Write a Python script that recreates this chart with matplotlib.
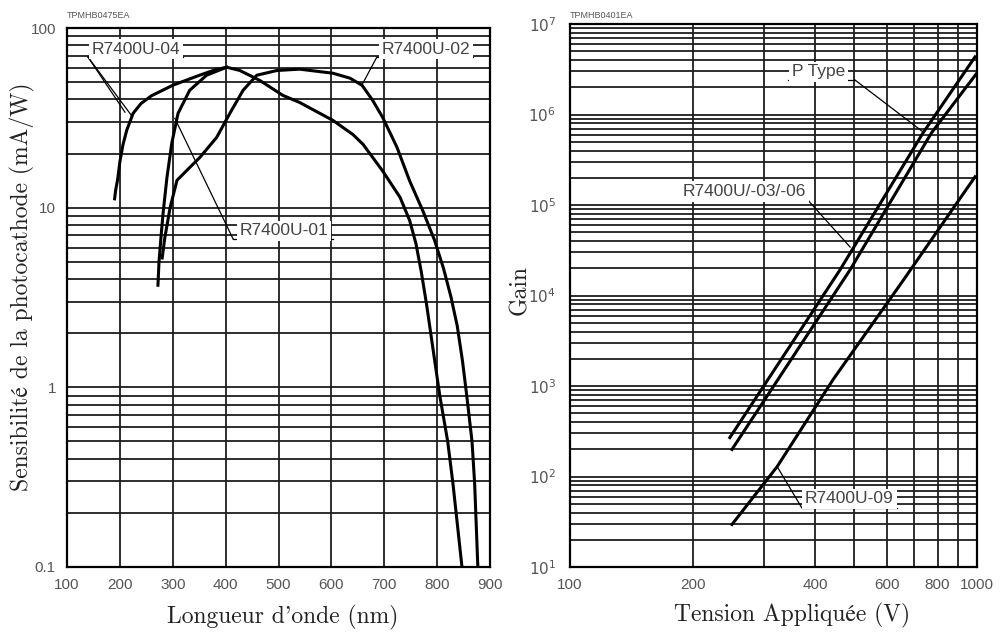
import math
import matplotlib.pyplot as plt
from matplotlib.ticker import FixedLocator, NullFormatter

plt.rcParams['font.family'] = ['Liberation Sans', 'DejaVu Sans']
SERIF = ['cmr10', 'STIXGeneral', 'DejaVu Serif']

# ---- left chart: sensibilite de la photocathode (mA/W) vs longueur d'onde (nm)
r04_nm = [190, 192, 196, 200, 206, 213, 225, 240, 260, 300, 350, 380, 402]
r04_v = [11.2, 12.5, 14.5, 18, 22.5, 27, 33.5, 38, 42, 48, 54.5, 58.5, 60.5]

r01_nm = [272, 274, 278, 282, 289, 298, 310, 332, 364, 402, 427, 465, 508, 540,
          603, 641, 660, 697, 730, 748, 760, 770, 780, 792, 805, 820, 830, 847]
r01_v = [3.7, 5, 7, 9.5, 14.7, 22.7, 33.5, 45, 54.6, 60.5, 58, 51, 42.2, 38.5,
         30.6, 25.5, 22.5, 16, 11.4, 8.5, 6.3, 4.4, 2.9, 1.65, 0.9, 0.5, 0.29, 0.1]

r02_nm = [280, 285, 295, 308, 330, 351, 383, 408, 433, 459, 497, 540, 603, 635,
          658, 678, 697, 724, 748, 773, 795, 812, 826, 838, 848, 856, 866, 871, 877]
r02_v = [5.25, 6.8, 10, 14.2, 16.5, 19, 24.6, 33.5, 45, 54.6, 58, 59, 56, 52.6,
         48, 39.6, 31.8, 21.7, 14.1, 9.6, 6.6, 4.6, 3.2, 2.2, 1.4, 0.9, 0.5, 0.29, 0.1]

# ---- right chart: gain vs tension appliquee (V)
ptype_V = [247, 461, 737, 989]
ptype_G = [269, 1.93e4, 6.27e5, 4.33e6]
r0306_V = [250, 488, 773, 1000]
r0306_G = [199, 1.93e4, 6.27e5, 2.88e6]
r09_V = [250, 323, 443, 658, 989]
r09_G = [29.5, 129, 1178, 1.46e4, 2.05e5]

fig = plt.figure(figsize=(10.01, 6.33), dpi=100)
ax1 = fig.add_axes([67 / 1001, 1 - 567 / 633, 423 / 1001, 539 / 633])
ax2 = fig.add_axes([570 / 1001, 1 - 567 / 633, 407 / 1001, 543 / 633])

grid_kw = dict(color='#1e1e1e', lw=1.3)

# left axes
ax1.set_yscale('log')
ax1.set_xlim(100, 900)
ax1.set_ylim(0.1, 100)
ax1.set_xticks(range(100, 901, 100))
ax1.set_yticks([0.1, 1, 10, 100])
ax1.set_yticklabels(['0.1', '1', '10', '100'])
ax1.yaxis.set_minor_locator(FixedLocator([m * 10.0 ** e for e in (-1, 0, 1) for m in range(2, 10)]))
ax1.yaxis.set_minor_formatter(NullFormatter())
ax1.grid(True, which='both', **grid_kw)
ax1.set_axisbelow(True)
ax1.tick_params(which='both', length=0, labelsize=11, labelcolor='#555')
ax1.tick_params(axis='y', pad=8)
ax1.tick_params(axis='x', pad=8)

for nm, v in [(r04_nm, r04_v), (r01_nm, r01_v), (r02_nm, r02_v)]:
    ax1.plot(nm, v, color='black', lw=2.2, zorder=3)

# right axes
ax2.set_xscale('log')
ax2.set_yscale('log')
ax2.set_xlim(100, 1000)
ax2.set_ylim(10, 1e7)
ax2.xaxis.set_major_locator(FixedLocator([100, 200, 400, 600, 800, 1000]))
ax2.xaxis.set_major_formatter(plt.FuncFormatter(lambda x, p: '%d' % x))
ax2.xaxis.set_minor_locator(FixedLocator([300, 500, 700, 900]))
ax2.xaxis.set_minor_formatter(NullFormatter())
ax2.yaxis.set_major_locator(FixedLocator([10.0 ** e for e in range(1, 8)]))
ax2.yaxis.set_major_formatter(plt.FuncFormatter(lambda y, p: r'$10^{%d}$' % round(math.log10(y))))
ax2.yaxis.set_minor_locator(FixedLocator([m * 10.0 ** e for e in range(1, 7) for m in range(2, 10)]))
ax2.yaxis.set_minor_formatter(NullFormatter())
ax2.grid(True, which='both', **grid_kw)
ax2.set_axisbelow(True)
ax2.tick_params(which='both', length=0, labelsize=11, labelcolor='#555')
ax2.tick_params(axis='y', pad=10)
ax2.tick_params(axis='x', pad=8)

for V, G in [(ptype_V, ptype_G), (r0306_V, r0306_G), (r09_V, r09_G)]:
    ax2.plot(V, G, color='black', lw=2.2, zorder=3)

for ax in (ax1, ax2):
    for s in ax.spines.values():
        s.set_linewidth(1.6)

# curve labels: text, underline, leader
lab_kw = dict(fontsize=12.5, color='#444', va='center', ha='left', zorder=5,
              bbox=dict(facecolor='white', edgecolor='none', pad=2))
line_kw = dict(color='black', lw=0.9, zorder=4)


def tag(ax, text, tx, ty, ux0, ux1, uy, tips, at_right=False):
    ax.text(tx, ty, text, **lab_kw)
    ax.plot([ux0, ux1], [uy, uy], **line_kw)
    sx = ux1 if at_right else ux0
    for px, py in tips:
        ax.plot([sx, px], [uy, py], **line_kw)


tag(ax1, 'R7400U-04', 147, 76.3, 139.7, 319, 68.9, [(209.6, 34.0), (222.9, 32.3)])
tag(ax1, 'R7400U-01', 427, 7.43, 414, 603, 6.71, [(304, 31.4)])
tag(ax1, 'R7400U-02', 695.5, 76.3, 686, 867.5, 68.9, [(657.7, 48.1)])
tag(ax2, 'P Type', 351.4, 2.95e6, 343.4, 501, 2.41e6, [(736.6, 6.42e5)], at_right=True)
tag(ax2, 'R7400U/-03/-06', 189.6, 1.4e5, 188.5, 383.6, 1.14e5, [(487.8, 3.43e4)], at_right=True)
tag(ax2, 'R7400U-09', 378, 56.5, 371, 636, 45.2, [(322.7, 129)])

# small reference codes
fig.text(67 / 1001, 1 - 15 / 633, 'TPMHB0475EA', fontsize=6.5, color='#555', va='center')
fig.text(570 / 1001, 1 - 15 / 633, 'TPMHB0401EA', fontsize=6.5, color='#555', va='center')

# axis titles
fig.text(283 / 1001, 1 - 617 / 633, "Longueur d'onde (nm)", family=SERIF, fontsize=17,
         ha='center', va='center', color='#222')
fig.text(792 / 1001, 1 - 615 / 633, 'Tension Appliquée (V)', family=SERIF, fontsize=17,
         ha='center', va='center', color='#222')
fig.text(22 / 1001, 1 - 287 / 633, 'Sensibilité de la photocathode (mA/W)', family=SERIF,
         fontsize=17, rotation=90, ha='center', va='center', color='#222')
fig.text(520 / 1001, 1 - 290 / 633, 'Gain', family=SERIF, fontsize=17, rotation=90,
         ha='center', va='center', color='#222')

fig.savefig('out.png', dpi=100)
